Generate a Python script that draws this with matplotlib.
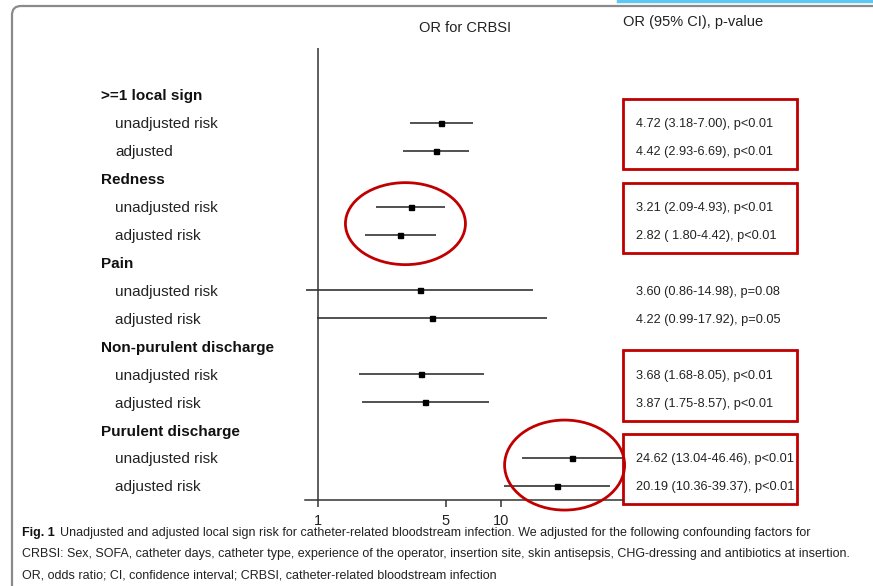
import matplotlib
matplotlib.use("Agg")
from matplotlib import pyplot as plt
from matplotlib import patches, transforms

W, H = 873, 586

groups = [">=1 local sign", "Redness", "Pain", "Non-purulent discharge", "Purulent discharge"]
sub_labels = [
    ["unadjusted risk", "adjusted"],
    ["unadjusted risk", "adjusted risk"],
    ["unadjusted risk", "adjusted risk"],
    ["unadjusted risk", "adjusted risk"],
    ["unadjusted risk", "adjusted risk"],
]
odds = [4.72, 4.42, 3.21, 2.82, 3.60, 4.22, 3.68, 3.87, 24.62, 20.19]
ci_low = [3.18, 2.93, 2.09, 1.80, 0.86, 0.99, 1.68, 1.75, 13.04, 10.36]
ci_high = [7.00, 6.69, 4.93, 4.42, 14.98, 17.92, 8.05, 8.57, 46.46, 39.37]
result_text = [
    "4.72 (3.18-7.00), p<0.01",
    "4.42 (2.93-6.69), p<0.01",
    "3.21 (2.09-4.93), p<0.01",
    "2.82 ( 1.80-4.42), p<0.01",
    "3.60 (0.86-14.98), p=0.08",
    "4.22 (0.99-17.92), p=0.05",
    "3.68 (1.68-8.05), p<0.01",
    "3.87 (1.75-8.57), p<0.01",
    "24.62 (13.04-46.46), p<0.01",
    "20.19 (10.36-39.37), p<0.01",
]
boxed_groups = [0, 1, 3, 4]
circled_groups = [1, 4]
ticks = [1, 5, 10]

caption_bold = "Fig. 1"
caption_lines = [
    "Unadjusted and adjusted local sign risk for catheter-related bloodstream infection. We adjusted for the following confounding factors for",
    "CRBSI: Sex, SOFA, catheter days, catheter type, experience of the operator, insertion site, skin antisepsis, CHG-dressing and antibiotics at insertion.",
    "OR, odds ratio; CI, confidence interval; CRBSI, catheter-related bloodstream infection",
]

RED = "#c00000"
INK = "#222222"
LINE = "#333333"
plt.rcParams["font.family"] = ["Liberation Sans", "DejaVu Sans"]


def fx(px):
    return px / W


def fy(py):
    return 1 - py / H


fig = plt.figure(figsize=(W / 100, H / 100), dpi=100, facecolor="white")
renderer = fig.canvas.get_renderer()

# page frame + blue strip at top right
frame = patches.FancyBboxPatch((12, -40), 950, H - 6 + 40,
                               boxstyle="round,pad=0,rounding_size=9",
                               transform=transforms.IdentityTransform(),
                               fill=False, edgecolor="#8a8a8a", lw=1.6)
fig.patches.append(frame)
fig.add_artist(plt.Line2D([fx(618), 1], [fy(1), fy(1)], transform=fig.transFigure,
                          color="#5ec8f2", lw=2.5))

# forest axes
ax = fig.add_axes([fx(305), fy(500), fx(623) - fx(305), (500 - 48) / H])
ax.set_xscale("log")
ax.set_xlim(0.85, 46.5)
ax.set_ylim(14.5, -1.68)
ax.patch.set_alpha(0)
for s in ("top", "right", "left"):
    ax.spines[s].set_visible(False)
ax.spines["bottom"].set_color(LINE)
ax.spines["bottom"].set_linewidth(1.1)
ax.set_yticks([])
ax.set_xticks(ticks)
ax.set_xticklabels([str(t) for t in ticks])
ax.xaxis.set_minor_locator(matplotlib.ticker.NullLocator())
ax.tick_params(axis="x", length=5, width=1.1, color=LINE, labelsize=10.5,
               labelcolor=INK, pad=5)
ax.axvline(1, color=LINE, lw=1.1)

rows = []
r = 0
for g in range(len(groups)):
    r += 1
    rows.append(r)
    rows.append(r + 1)
    r += 2

ax.hlines(rows, ci_low, ci_high, color=LINE, lw=1.2, clip_on=False)
ax.plot(odds, rows, "s", ms=3.6, color="black", clip_on=False)

trans = transforms.blended_transform_factory(fig.transFigure, ax.transData)
for g, name in enumerate(groups):
    head = 3 * g
    ax.text(fx(101), head + 0.05, name, transform=trans, ha="left", va="center",
            fontsize=11, fontweight="bold", color="#111111")
    for k in range(2):
        ax.text(fx(115), head + 1.05 + k, sub_labels[g][k], transform=trans,
                ha="left", va="center", fontsize=11, color=INK)

for i, t in enumerate(result_text):
    ax.text(fx(636), rows[i] + 0.05, t, transform=trans, ha="left", va="center",
            fontsize=9.2, color=INK)

for g in boxed_groups:
    top = rows[2 * g] - 0.86
    bot = rows[2 * g + 1] + 0.66
    rect = patches.Rectangle((fx(623), top), fx(797) - fx(623), bot - top,
                             transform=trans, fill=False, edgecolor=RED,
                             lw=2.0, clip_on=False)
    ax.add_patch(rect)

# highlight ellipses, centred around each circled group's marks
for g, (w, h, dy) in zip(circled_groups, [(120, 82, 3), (120, 90, -7)]):
    i = 2 * g
    mid = ax.transData.transform(((odds[i] * odds[i + 1]) ** 0.5, (rows[i] + rows[i + 1]) / 2))
    cx, cy = fig.transFigure.inverted().transform(mid)
    ell = patches.Ellipse((cx, cy - dy / H), w / W, h / H,
                          transform=fig.transFigure, fill=False,
                          edgecolor=RED, lw=2.0)
    fig.add_artist(ell)

# column headers
fig.text(fx(465), fy(28), "OR for CRBSI", ha="center", va="center",
         fontsize=10.5, color=INK)
fig.text(fx(623), fy(22), "OR (95% CI), p-value", ha="left", va="center",
         fontsize=10.5, color=INK)

# caption: shrink the font so the longest line spans the same width as the reference
cap_size = 9.6
probe = fig.text(0, 0, caption_lines[1], fontsize=cap_size)
width = probe.get_window_extent(renderer).width
probe.remove()
cap_size = cap_size * 830 / width

bold = fig.text(fx(22), fy(533), caption_bold, ha="left", va="center",
                fontsize=cap_size, fontweight="bold", color="#111111")
bb = bold.get_window_extent(renderer)
fig.text(bb.x1 / W + fx(5), fy(533), caption_lines[0], ha="left", va="center",
         fontsize=cap_size, color=INK)
fig.text(fx(22), fy(554), caption_lines[1], ha="left", va="center",
         fontsize=cap_size, color=INK)
fig.text(fx(22), fy(575), caption_lines[2], ha="left", va="center",
         fontsize=cap_size, color=INK)

fig.savefig("out.png", dpi=100, facecolor="white")
